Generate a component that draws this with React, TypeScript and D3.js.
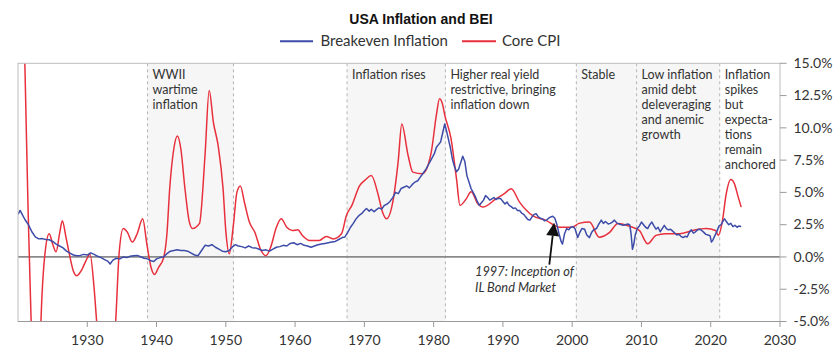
import React from "react";
import * as d3 from "d3";

const title = "USA Inflation and BEI";
const seriesNames = ["Breakeven Inflation", "Core CPI"];
const xTicks = [1930, 1940, 1950, 1960, 1970, 1980, 1990, 2000, 2010, 2020, 2030];
const yTicks = [-5, -2.5, 0, 2.5, 5, 7.5, 10, 12.5, 15];
const regionBounds = [1938.7, 1951.1, 1967.5, 1981.7, 2000.6, 2009.3, 2021.3];
const shadedRegions: [number, number][] = [
  [1938.7, 1951.1],
  [1967.5, 1981.7],
  [2000.6, 2021.3],
];
const regionLabels: { start: number; lines: string[] }[] = [
  { start: 1938.7, lines: ["WWII", "wartime", "inflation"] },
  { start: 1967.5, lines: ["Inflation rises"] },
  { start: 1981.7, lines: ["Higher real yield", "restrictive, bringing", "inflation down"] },
  { start: 2000.6, lines: ["Stable"] },
  { start: 2009.3, lines: ["Low inflation", "amid debt", "deleveraging", "and anemic", "growth"] },
  { start: 2021.3, lines: ["Inflation", "spikes", "but", "expecta-", "tions", "remain", "anchored"] },
];
const noteLines = ["1997: Inception of", "IL Bond Market"];

// Core CPI (year, %)
const coreCpi: [number, number][] = [
  [1920.7, 22], [1921.4, 5], [1922.0, -7], [1922.6, -11], [1923.1, -9], [1923.3, -5.2],
  [1923.9, 0.3], [1924.5, 1.8], [1925.0, 1.0], [1925.5, 0.4], [1926.0, 1.8], [1926.4, 2.8],
  [1926.9, 1.6], [1927.5, 0.0], [1928.0, -1.1], [1928.5, -1.45], [1929.2, -1.0], [1929.8, -0.3],
  [1930.4, 0.2], [1931.0, -2.5], [1931.4, -5.3], [1932.5, -10], [1933.5, -9], [1934.1, -5],
  [1934.6, 0.3], [1935.2, 2.2], [1935.8, 1.9], [1936.5, 1.15], [1937.2, 1.8], [1938.0, 2.96],
  [1938.6, 1.0], [1939.2, -0.8], [1939.7, -1.36], [1940.3, -0.8], [1941.0, -0.1], [1941.5, 1.8],
  [1941.9, 5.3], [1942.5, 8.4], [1943.0, 9.37], [1943.5, 8.4], [1944.1, 5.3], [1944.7, 2.8],
  [1945.2, 2.2], [1946.2, 2.6], [1947.0, 7.9], [1947.6, 12.9], [1948.2, 10.45], [1948.9, 8.6],
  [1949.6, 5.3], [1950.0, 2.0], [1950.5, 0.25], [1951.1, 2.5], [1951.6, 5.0], [1952.1, 5.5],
  [1952.7, 4.2], [1953.4, 2.7], [1954.2, 1.9], [1955.0, 0.6], [1955.8, 0.1], [1956.5, 0.8],
  [1957.3, 2.3], [1958.0, 2.96], [1958.8, 2.3], [1959.6, 2.05], [1960.4, 2.1], [1961.0, 1.7],
  [1962.1, 1.28], [1963.5, 1.28], [1964.5, 1.59], [1965.5, 1.4], [1966.7, 1.8], [1967.4, 3.2],
  [1968.2, 4.0], [1969.3, 5.5], [1970.2, 6.0], [1971.0, 6.3], [1972.0, 4.8], [1972.6, 3.5],
  [1973.2, 2.96], [1974.1, 4.25], [1974.9, 7.5], [1975.4, 10.3], [1976.3, 7.9], [1977.0, 6.57],
  [1978.4, 6.45], [1979.65, 8.1], [1980.4, 11.0], [1980.85, 12.26], [1981.3, 11.8], [1981.6, 11.0],
  [1982.5, 9.2], [1983.3, 6.06], [1983.8, 4.0], [1984.7, 4.5], [1985.4, 5.05], [1986.4, 4.1],
  [1987.1, 3.86], [1989.0, 4.5], [1990.2, 4.9], [1991.2, 5.28], [1992.4, 4.25], [1994.3, 3.2],
  [1996.2, 2.83], [1998.2, 2.3], [1999.9, 2.3], [2001.0, 2.6], [2002.5, 2.7], [2003.9, 1.53],
  [2005.4, 1.9], [2006.6, 2.6], [2008.7, 2.3], [2009.7, 2.05], [2010.9, 1.02], [2012.1, 1.67],
  [2013.5, 1.8], [2015.5, 1.8], [2017.4, 2.05], [2019.3, 2.2], [2020.7, 2.05], [2021.1, 1.67],
  [2021.7, 2.83], [2022.2, 4.77], [2022.9, 6.0], [2023.4, 5.7], [2023.9, 4.77], [2024.4, 3.86],
];

// Breakeven inflation (year, %)
const breakeven: [number, number][] = [
  [1920.0, 3.3], [1920.3, 3.6], [1920.6, 3.3], [1921.0, 2.9], [1921.5, 2.5], [1922.0, 1.95],
  [1922.5, 1.55], [1923.0, 1.4], [1923.5, 1.42], [1924.0, 1.35], [1924.5, 1.33], [1925.0, 1.2],
  [1925.5, 1.0], [1926.0, 0.85], [1926.5, 0.7], [1927.0, 0.45], [1927.5, 0.3], [1928.0, 0.15],
  [1928.5, 0.1], [1929.0, 0.12], [1929.5, 0.2], [1930.0, 0.15], [1930.5, 0.32], [1931.0, 0.2],
  [1931.5, 0.05], [1932.0, -0.05], [1932.5, -0.2], [1933.0, -0.35], [1933.3, -0.55], [1933.7, -0.25],
  [1934.2, -0.1], [1934.7, -0.15], [1935.2, 0.0], [1935.7, -0.05], [1936.2, 0.05], [1936.7, 0.1],
  [1937.2, 0.12], [1937.7, 0.02], [1938.2, -0.1], [1938.7, -0.15], [1939.2, -0.3], [1939.6, -0.35],
  [1940.0, -0.15], [1940.5, -0.05], [1941.0, 0.0], [1941.5, 0.25], [1942.0, 0.45], [1942.5, 0.5],
  [1943.0, 0.55], [1943.5, 0.5], [1944.0, 0.5], [1944.5, 0.45], [1945.0, 0.3], [1945.5, 0.15],
  [1946.0, 0.1], [1946.5, 0.5], [1947.0, 0.9], [1947.5, 0.85], [1948.0, 0.95], [1948.5, 0.75],
  [1949.0, 0.6], [1949.5, 0.45], [1950.0, 0.4], [1950.5, 0.5], [1951.0, 0.8], [1951.4, 0.95],
  [1951.8, 0.85], [1952.3, 0.8], [1952.8, 0.7], [1953.3, 0.85], [1953.8, 0.72], [1954.3, 0.7],
  [1954.8, 0.6], [1955.3, 0.5], [1955.8, 0.55], [1956.3, 0.45], [1956.8, 0.6], [1957.3, 0.75],
  [1957.8, 0.8], [1958.3, 0.9], [1958.8, 0.85], [1959.3, 1.05], [1959.8, 1.1], [1960.3, 0.95],
  [1960.8, 1.05], [1961.3, 0.9], [1961.8, 0.85], [1962.3, 0.75], [1962.8, 0.85], [1963.3, 0.95],
  [1963.8, 1.0], [1964.3, 1.05], [1964.8, 1.1], [1965.3, 1.15], [1965.8, 1.2], [1966.3, 1.35],
  [1966.8, 1.5], [1967.2, 1.55], [1967.6, 1.9], [1968.0, 2.3], [1968.4, 2.6], [1968.8, 2.95],
  [1969.2, 3.2], [1969.6, 3.35], [1970.0, 3.6], [1970.3, 3.75], [1970.7, 3.55], [1971.0, 3.7],
  [1971.4, 3.5], [1971.7, 3.65], [1972.1, 3.8], [1972.5, 3.7], [1972.9, 4.0], [1973.3, 4.1],
  [1973.7, 4.3], [1974.1, 4.6], [1974.5, 5.0], [1974.9, 4.9], [1975.3, 5.3], [1975.7, 5.4],
  [1976.1, 5.5], [1976.5, 5.35], [1976.9, 5.6], [1977.3, 5.8], [1977.7, 5.9], [1978.1, 6.2],
  [1978.5, 6.5], [1978.9, 6.8], [1979.3, 7.2], [1979.7, 7.6], [1980.1, 8.0], [1980.4, 8.5],
  [1980.7, 8.7], [1981.0, 8.9], [1981.3, 9.6], [1981.6, 10.3], [1981.8, 9.9], [1982.1, 9.2],
  [1982.4, 8.5], [1982.7, 7.6], [1983.0, 7.0], [1983.3, 6.6], [1983.6, 6.8], [1983.9, 7.3],
  [1984.2, 7.8], [1984.5, 7.4], [1984.8, 6.3], [1985.1, 5.8], [1985.4, 5.3], [1985.7, 5.0],
  [1986.0, 4.7], [1986.3, 4.3], [1986.6, 4.0], [1986.9, 4.2], [1987.2, 4.4], [1987.5, 4.75],
  [1987.8, 4.6], [1988.1, 4.4], [1988.4, 4.5], [1988.7, 4.6], [1989.0, 4.45], [1989.3, 4.55],
  [1989.7, 4.5], [1990.0, 4.3], [1990.3, 4.1], [1990.6, 4.25], [1990.9, 4.0], [1991.2, 3.9],
  [1991.5, 3.75], [1991.8, 3.8], [1992.1, 3.6], [1992.4, 3.6], [1992.7, 3.4], [1993.0, 3.3],
  [1993.3, 3.1], [1993.6, 2.9], [1993.9, 2.85], [1994.2, 3.1], [1994.5, 3.3], [1994.8, 3.35],
  [1995.1, 3.1], [1995.4, 3.0], [1995.7, 2.95], [1996.0, 2.8], [1996.3, 2.85], [1996.6, 3.0],
  [1996.9, 3.1], [1997.2, 3.15], [1997.5, 3.0], [1997.8, 2.5], [1998.1, 1.8], [1998.4, 1.2],
  [1998.6, 1.0], [1998.9, 1.8], [1999.2, 2.2], [1999.5, 2.1], [1999.8, 2.3], [2000.1, 2.35],
  [2000.4, 2.2], [2000.8, 1.5], [2001.1, 1.9], [2001.4, 2.2], [2001.8, 2.15], [2002.1, 1.7],
  [2002.5, 1.5], [2002.8, 1.9], [2003.1, 2.1], [2003.5, 2.2], [2003.8, 2.5], [2004.2, 2.85],
  [2004.5, 2.6], [2004.8, 2.75], [2005.2, 2.55], [2005.5, 2.6], [2005.8, 2.7], [2006.1, 2.85],
  [2006.5, 2.6], [2006.8, 2.55], [2007.1, 2.5], [2007.4, 2.45], [2007.7, 2.5], [2008.0, 2.55],
  [2008.3, 2.5], [2008.5, 1.8], [2008.7, 0.6], [2008.9, 1.0], [2009.1, 1.7], [2009.4, 2.2],
  [2009.7, 2.4], [2010.0, 2.7], [2010.3, 2.5], [2010.6, 2.3], [2010.9, 2.2], [2011.2, 2.5],
  [2011.5, 2.7], [2011.8, 2.4], [2012.1, 2.15], [2012.4, 2.3], [2012.7, 1.95], [2013.0, 2.2],
  [2013.3, 2.45], [2013.6, 2.2], [2013.9, 2.1], [2014.2, 2.15], [2014.5, 2.0], [2014.8, 1.85],
  [2015.1, 1.7], [2015.4, 1.75], [2015.7, 1.6], [2016.0, 1.5], [2016.3, 1.6], [2016.6, 1.55],
  [2016.9, 1.9], [2017.2, 2.1], [2017.5, 1.85], [2017.8, 1.95], [2018.1, 2.1], [2018.4, 2.15],
  [2018.7, 2.05], [2019.0, 1.9], [2019.3, 1.75], [2019.6, 1.7], [2019.9, 1.65], [2020.1, 1.15],
  [2020.3, 1.3], [2020.6, 1.65], [2020.9, 2.0], [2021.2, 2.4], [2021.5, 2.5], [2021.8, 2.8],
  [2022.0, 2.95], [2022.3, 2.7], [2022.6, 2.5], [2022.9, 2.6], [2023.2, 2.35], [2023.5, 2.45],
  [2023.8, 2.3], [2024.1, 2.4], [2024.4, 2.35],
];

const W = 840;
const H = 358;
const L = 18, R = 780, T = 63.3, B = 321.5;
const BLUE = "#3d4ca8";
const RED = "#e8303c";
const TEXT = "#333";
const FONT = "Lato, 'Liberation Sans', sans-serif";
const LABEL_SIZE = 12.5;
const LINE_STEP = 15;

export default function App() {
  const x = d3.scaleLinear().domain([1920, 2030]).range([L, R]);
  const y = d3.scaleLinear().domain([-5, 15]).range([B, T]);

  const redPath = d3.line<[number, number]>()
    .x((d) => x(d[0]))
    .y((d) => y(d[1]))
    .curve(d3.curveMonotoneX)(coreCpi) || "";
  const bluePath = d3.line<[number, number]>()
    .x((d) => x(d[0]))
    .y((d) => y(d[1]))
    .curve(d3.curveLinear)(breakeven) || "";

  // arrow for IL bond market note
  const tip: [number, number] = [x(1997.4), y(2.65)];
  const tail: [number, number] = [x(1996.7), y(-0.6)];
  const ang = Math.atan2(tip[1] - tail[1], tip[0] - tail[0]);
  const headLen = 13, headHalf = 6.5;
  const bx = tip[0] - headLen * Math.cos(ang);
  const by = tip[1] - headLen * Math.sin(ang);
  const px = -Math.sin(ang), py = Math.cos(ang);
  const head = `M${tip[0]},${tip[1]}L${bx + px * headHalf},${by + py * headHalf}L${bx - px * headHalf},${by - py * headHalf}Z`;

  return (
    <div>
      <style>{`body{margin:0}`}</style>
      <svg width={W} height={H} style={{ display: "block", background: "#fff" }}>
        <defs>
          <clipPath id="plotclip">
            <rect x={L} y={T} width={R - L} height={B - T} />
          </clipPath>
        </defs>
        <text x={421} y={24.3} textAnchor="middle" fontFamily="'Liberation Sans', Arial, sans-serif" fontWeight="bold" fontSize={14} fill="#111">{title}</text>
        <line x1={280} x2={313} y1={41.3} y2={41.3} stroke={BLUE} strokeWidth={2} />
        <text x={320.5} y={45.8} fontFamily={FONT} fontSize={15} fill={TEXT}>{seriesNames[0]}</text>
        <line x1={462} x2={496} y1={41.3} y2={41.3} stroke={RED} strokeWidth={2} />
        <text x={502} y={45.8} fontFamily={FONT} fontSize={15} fill={TEXT}>{seriesNames[1]}</text>

        {shadedRegions.map(([a, b], i) => (
          <rect key={i} x={x(a)} y={T} width={x(b) - x(a)} height={B - T} fill="#f6f6f6" />
        ))}
        {regionBounds.map((v, i) => (
          <line key={i} x1={x(v)} x2={x(v)} y1={T} y2={B} stroke="#b5b5b5" strokeWidth={1} strokeDasharray="3,3" />
        ))}
        <line x1={L} x2={R} y1={y(0)} y2={y(0)} stroke="#8a8a8a" strokeWidth={1.8} />

        <g clipPath="url(#plotclip)">
          <path d={redPath} fill="none" stroke={RED} strokeWidth={1.5} />
          <path d={bluePath} fill="none" stroke={BLUE} strokeWidth={1.5} strokeLinejoin="round" />
        </g>

        <rect x={L} y={T} width={R - L} height={B - T} fill="none" stroke="#bdbdbd" strokeWidth={1} />
        <line x1={L} x2={R} y1={B} y2={B} stroke="#9a9a9a" strokeWidth={1} />

        {regionLabels.map((r, i) =>
          r.lines.map((ln, j) => (
            <text key={`${i}-${j}`} x={x(r.start) + 5} y={78.5 + j * LINE_STEP} fontFamily={FONT} fontSize={LABEL_SIZE} fill={TEXT}>{ln}</text>
          ))
        )}

        <line x1={tail[0]} y1={tail[1]} x2={bx} y2={by} stroke="#111" strokeWidth={1.8} />
        <path d={head} fill="#111" />
        {noteLines.map((ln, j) => (
          <text key={j} x={475} y={276 + j * 15.5} fontFamily={FONT} fontStyle="italic" fontSize={12.8} fill={TEXT}>{ln}</text>
        ))}

        {xTicks.map((t) => (
          <g key={t}>
            <line x1={x(t)} x2={x(t)} y1={B} y2={B + 5.5} stroke="#9a9a9a" />
            <text x={x(t)} y={345.3} textAnchor="middle" fontFamily={FONT} fontSize={14} fill={TEXT}>{t}</text>
          </g>
        ))}
        {yTicks.map((t) => (
          <g key={t}>
            <line x1={R} x2={R + 6.5} y1={y(t)} y2={y(t)} stroke="#9a9a9a" />
            <text x={793.5} y={y(t) + 4.8} fontFamily={FONT} fontSize={14} fill={TEXT}>{t.toFixed(1) + "%"}</text>
          </g>
        ))}
      </svg>
    </div>
  );
}
